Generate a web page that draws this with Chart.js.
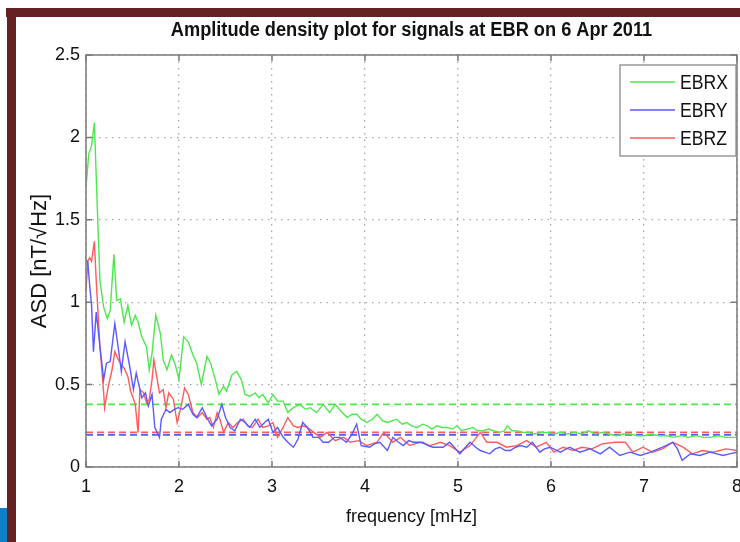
<!DOCTYPE html>
<html>
<head>
<meta charset="utf-8">
<script src="https://cdn.jsdelivr.net/npm/chart.js@4.4.1/dist/chart.umd.min.js"></script>
<style>
  html, body { margin: 0; padding: 0; background: #fff; }
  #wrap { position: relative; width: 740px; height: 542px; }
</style>
</head>
<body>
<div id="wrap"><canvas id="c" width="740" height="542"></canvas></div>
<script>
// EBRX (green)
const ebrxFreq = [1.00, 1.03, 1.06, 1.09, 1.12, 1.15, 1.19, 1.23, 1.26, 1.30, 1.33, 1.37, 1.41, 1.45, 1.49, 1.53, 1.56, 1.60, 1.65, 1.68,
  1.71, 1.75, 1.80, 1.83, 1.87, 1.92, 1.96, 2.00, 2.05, 2.10, 2.15, 2.19, 2.24, 2.30, 2.34, 2.39, 2.43, 2.48, 2.51, 2.57,
  2.62, 2.67, 2.71, 2.76, 2.82, 2.86, 2.90, 2.96, 3.01, 3.06, 3.12, 3.17, 3.23, 3.30, 3.36, 3.41, 3.48, 3.55, 3.62, 3.68,
  3.74, 3.81, 3.86, 3.91, 3.96, 4.02, 4.08, 4.13, 4.19, 4.24, 4.29, 4.34, 4.40, 4.45, 4.50, 4.56, 4.62, 4.67, 4.72, 4.77,
  4.83, 4.88, 4.94, 4.99, 5.04, 5.10, 5.16, 5.21, 5.27, 5.33, 5.38, 5.45, 5.50, 5.53, 5.58, 5.63, 5.70, 5.75, 5.82, 5.90,
  5.96, 6.03, 6.10, 6.18, 6.25, 6.33, 6.40, 6.48, 6.55, 6.62, 6.70, 6.78, 6.85, 6.93, 7.00, 7.08, 7.16, 7.24, 7.32, 7.40,
  7.48, 7.56, 7.64, 7.72, 7.80, 7.88, 7.96, 8.00]
const ebrxAsd = [1.70, 1.90, 1.95, 2.09, 1.60, 1.13, 0.97, 0.90, 0.95, 1.29, 1.01, 1.02, 0.88, 0.98, 0.86, 0.92, 0.88, 0.79, 0.73, 0.59,
  0.69, 0.92, 0.81, 0.65, 0.59, 0.68, 0.62, 0.53, 0.79, 0.76, 0.68, 0.63, 0.50, 0.67, 0.63, 0.53, 0.44, 0.49, 0.46, 0.56,
  0.58, 0.53, 0.44, 0.43, 0.45, 0.42, 0.44, 0.39, 0.44, 0.40, 0.40, 0.33, 0.36, 0.38, 0.35, 0.36, 0.33, 0.38, 0.33, 0.38,
  0.34, 0.30, 0.32, 0.32, 0.29, 0.27, 0.29, 0.32, 0.28, 0.27, 0.28, 0.29, 0.26, 0.27, 0.25, 0.24, 0.26, 0.25, 0.23, 0.25,
  0.24, 0.24, 0.23, 0.25, 0.22, 0.23, 0.24, 0.22, 0.22, 0.23, 0.22, 0.21, 0.22, 0.25, 0.22, 0.22, 0.21, 0.21, 0.20, 0.21,
  0.21, 0.20, 0.21, 0.20, 0.21, 0.20, 0.22, 0.20, 0.21, 0.20, 0.19, 0.20, 0.20, 0.19, 0.19, 0.20, 0.19, 0.19, 0.18, 0.19,
  0.18, 0.19, 0.18, 0.18, 0.19, 0.18, 0.18, 0.18]

// EBRY (blue)
const ebryFreq = [1.00, 1.02, 1.04, 1.06, 1.08, 1.11, 1.15, 1.19, 1.22, 1.26, 1.31, 1.35, 1.38, 1.42, 1.47, 1.51, 1.54, 1.60, 1.64, 1.67,
  1.71, 1.74, 1.79, 1.81, 1.86, 1.90, 1.95, 1.99, 2.04, 2.10, 2.15, 2.19, 2.25, 2.30, 2.35, 2.41, 2.46, 2.50, 2.55, 2.60,
  2.66, 2.71, 2.76, 2.82, 2.87, 2.92, 2.96, 3.01, 3.06, 3.12, 3.19, 3.23, 3.28, 3.33, 3.38, 3.44, 3.50, 3.55, 3.61, 3.67,
  3.73, 3.80, 3.86, 3.91, 3.96, 4.05, 4.10, 4.16, 4.24, 4.30, 4.36, 4.41, 4.47, 4.52, 4.62, 4.68, 4.73, 4.84, 4.91, 4.96,
  5.02, 5.08, 5.13, 5.19, 5.24, 5.34, 5.40, 5.45, 5.51, 5.56, 5.62, 5.67, 5.74, 5.80, 5.88, 5.93, 5.99, 6.10, 6.20, 6.31,
  6.42, 6.53, 6.63, 6.74, 6.85, 6.96, 7.07, 7.20, 7.31, 7.36, 7.41, 7.50, 7.60, 7.71, 7.85, 7.92, 8.00]
const ebryAsd = [1.26, 1.24, 1.10, 0.98, 0.70, 0.94, 0.73, 0.53, 0.63, 0.64, 0.87, 0.71, 0.58, 0.76, 0.61, 0.47, 0.57, 0.42, 0.45, 0.37,
  0.44, 0.24, 0.18, 0.29, 0.35, 0.33, 0.35, 0.36, 0.35, 0.38, 0.32, 0.30, 0.36, 0.30, 0.25, 0.29, 0.38, 0.30, 0.24, 0.22,
  0.29, 0.27, 0.24, 0.29, 0.24, 0.27, 0.29, 0.21, 0.24, 0.18, 0.14, 0.12, 0.17, 0.27, 0.24, 0.18, 0.18, 0.15, 0.15, 0.18,
  0.18, 0.15, 0.20, 0.26, 0.13, 0.12, 0.14, 0.15, 0.10, 0.18, 0.15, 0.13, 0.16, 0.15, 0.15, 0.13, 0.12, 0.12, 0.15, 0.12,
  0.08, 0.12, 0.15, 0.12, 0.10, 0.08, 0.11, 0.12, 0.10, 0.10, 0.12, 0.13, 0.12, 0.15, 0.09, 0.11, 0.12, 0.09, 0.12, 0.09,
  0.11, 0.08, 0.12, 0.07, 0.09, 0.07, 0.09, 0.12, 0.15, 0.11, 0.04, 0.08, 0.07, 0.09, 0.07, 0.08, 0.09]

// EBRZ (red)
const ebrzFreq = [1.00, 1.02, 1.04, 1.06, 1.09, 1.11, 1.13, 1.15, 1.17, 1.19, 1.20, 1.24, 1.28, 1.31, 1.34, 1.38, 1.41, 1.45, 1.48, 1.50,
  1.53, 1.56, 1.58, 1.62, 1.65, 1.68, 1.71, 1.73, 1.76, 1.79, 1.83, 1.86, 1.89, 1.94, 1.98, 2.02, 2.06, 2.10, 2.15, 2.20,
  2.25, 2.30, 2.33, 2.37, 2.41, 2.44, 2.48, 2.53, 2.58, 2.63, 2.69, 2.74, 2.79, 2.85, 2.90, 2.96, 3.01, 3.06, 3.12, 3.17,
  3.23, 3.28, 3.33, 3.38, 3.45, 3.52, 3.59, 3.68, 3.77, 3.84, 3.93, 4.02, 4.13, 4.20, 4.30, 4.38, 4.48, 4.59, 4.70, 4.81,
  4.91, 5.02, 5.13, 5.24, 5.31, 5.42, 5.52, 5.63, 5.74, 5.84, 5.95, 6.03, 6.13, 6.24, 6.33, 6.44, 6.55, 6.69, 6.80, 6.88,
  6.99, 7.09, 7.20, 7.31, 7.42, 7.52, 7.63, 7.74, 7.88, 8.00]
const ebrzAsd = [1.07, 1.25, 1.27, 1.25, 1.37, 1.13, 0.93, 0.73, 0.59, 0.45, 0.36, 0.49, 0.59, 0.70, 0.66, 0.62, 0.60, 0.55, 0.46, 0.43,
  0.38, 0.21, 0.47, 0.45, 0.39, 0.41, 0.53, 0.65, 0.55, 0.45, 0.47, 0.36, 0.45, 0.41, 0.27, 0.36, 0.48, 0.44, 0.33, 0.30,
  0.33, 0.29, 0.30, 0.24, 0.33, 0.29, 0.21, 0.27, 0.24, 0.27, 0.29, 0.25, 0.24, 0.29, 0.24, 0.25, 0.27, 0.18, 0.24, 0.30,
  0.25, 0.24, 0.25, 0.24, 0.21, 0.18, 0.21, 0.16, 0.18, 0.15, 0.16, 0.13, 0.15, 0.21, 0.15, 0.18, 0.13, 0.15, 0.13, 0.15,
  0.13, 0.09, 0.13, 0.21, 0.15, 0.15, 0.12, 0.13, 0.16, 0.12, 0.15, 0.09, 0.12, 0.10, 0.12, 0.11, 0.14, 0.15, 0.15, 0.09,
  0.12, 0.09, 0.11, 0.15, 0.12, 0.08, 0.10, 0.09, 0.11, 0.10]

// dashed reference levels (X, Y, Z) and axis ticks
const seriesNames = ['EBRX', 'EBRY', 'EBRZ']
const levelAsd = [0.38, 0.195, 0.21]
const freqRange = [1, 8]
const freqTicks = [1, 2, 3, 4, 5, 6, 7, 8]
const asdTicks = [0, 0.5, 1, 1.5, 2, 2.5]
const chartTitle = 'Amplitude density plot for signals at EBR on 6 Apr 2011'

const colors = ['#4ce84c', '#5a5aff', '#ff5a5a']
const sans = "'Liberation Sans', Arial, sans-serif"

function toPoints(xs, ys) {
  return xs.map((x, i) => ({ x: x, y: ys[i] }))
}

const series = [toPoints(ebrxFreq, ebrxAsd), toPoints(ebryFreq, ebryAsd), toPoints(ebrzFreq, ebrzAsd)]

const datasets = series.map((pts, i) => ({
  label: seriesNames[i],
  data: pts,
  borderColor: colors[i],
  borderWidth: 1.4,
  pointRadius: 0,
  tension: 0,
  fill: false
}))

// mean levels drawn as dashed lines across the range
levelAsd.forEach((lvl, i) => {
  datasets.push({
    label: seriesNames[i] + ' level',
    data: freqRange.map((f) => ({ x: f, y: lvl })),
    borderColor: colors[i],
    borderWidth: 1.8,
    borderDash: [7, 4],
    pointRadius: 0,
    fill: false
  })
})

// page frame, title, axes box, inner ticks and legend
const decor = {
  id: 'decor',
  beforeDraw(chart) {
    const ctx = chart.ctx
    ctx.save()
    ctx.fillStyle = '#fff'
    ctx.fillRect(0, 0, chart.width, chart.height)
    ctx.fillStyle = '#652222'
    ctx.fillRect(6, 8, 734, 9)
    ctx.fillRect(7, 8, 9, 534)
    ctx.fillStyle = '#0b7fc7'
    ctx.fillRect(0, 508, 7, 34)
    ctx.restore()
  },
  afterDatasetsDraw(chart) {
    const ctx = chart.ctx
    const a = chart.chartArea
    const xs = chart.scales.x
    const ys = chart.scales.y
    ctx.save()

    // title, slightly condensed like the original
    ctx.fillStyle = '#111'
    ctx.font = 'bold 20px ' + sans
    ctx.textAlign = 'center'
    ctx.textBaseline = 'middle'
    ctx.save()
    ctx.translate((a.left + a.right) / 2, 30)
    ctx.scale(0.91, 1)
    ctx.fillText(chartTitle, 0, 0)
    ctx.restore()

    ctx.strokeStyle = '#7a7a7a'
    ctx.lineWidth = 1.5
    ctx.strokeRect(a.left, a.top, a.right - a.left, a.bottom - a.top)
    ctx.beginPath()
    xs.ticks.forEach((t) => {
      const px = xs.getPixelForValue(t.value)
      ctx.moveTo(px, a.bottom); ctx.lineTo(px, a.bottom - 6)
      ctx.moveTo(px, a.top); ctx.lineTo(px, a.top + 6)
    })
    ys.ticks.forEach((t) => {
      const py = ys.getPixelForValue(t.value)
      ctx.moveTo(a.left, py); ctx.lineTo(a.left + 6, py)
      ctx.moveTo(a.right, py); ctx.lineTo(a.right - 6, py)
    })
    ctx.stroke()

    // legend box
    const bx = 620, by = 65, bw = 116, bh = 91
    ctx.fillStyle = '#fff'
    ctx.fillRect(bx, by, bw, bh)
    ctx.strokeStyle = '#8a8a8a'
    ctx.lineWidth = 1.3
    ctx.strokeRect(bx, by, bw, bh)
    ctx.font = '20px ' + sans
    ctx.textBaseline = 'middle'
    ctx.textAlign = 'left'
    chart.data.datasets.slice(0, 3).forEach((ds, i) => {
      const ry = 82 + i * 28
      ctx.strokeStyle = ds.borderColor
      ctx.lineWidth = 1.5
      ctx.beginPath()
      ctx.moveTo(630, ry); ctx.lineTo(675, ry)
      ctx.stroke()
      ctx.fillStyle = '#111'
      ctx.save()
      ctx.translate(680, ry + 1)
      ctx.scale(0.88, 1)
      ctx.fillText(ds.label, 0, 0)
      ctx.restore()
    })
    ctx.restore()
  }
}

new Chart(document.getElementById('c').getContext('2d'), {
  type: 'line',
  data: { datasets: datasets },
  plugins: [decor],
  options: {
    responsive: false,
    animation: false,
    layout: { padding: { left: 0, right: 3, top: 55, bottom: 0 } },
    plugins: {
      legend: { display: false },
      tooltip: { enabled: false },
      title: { display: false }
    },
    scales: {
      x: {
        type: 'linear',
        min: freqRange[0],
        max: freqRange[1],
        afterFit(scale) { scale.height = 75; scale.paddingRight = 0 },
        afterBuildTicks(scale) { scale.ticks = freqTicks.map((v) => ({ value: v })) },
        ticks: { color: '#111', padding: 9, maxRotation: 0, font: { family: sans, size: 18 } },
        grid: { color: '#a8a8a8', lineWidth: 1.3, drawTicks: false },
        border: { display: false, dash: [1.5, 5] },
        title: {
          display: true,
          text: 'frequency [mHz]',
          color: '#111',
          font: { family: sans, size: 18 },
          padding: { top: 0, bottom: 14 }
        }
      },
      y: {
        min: 0,
        max: 2.5,
        afterFit(scale) { scale.width = 86 },
        afterBuildTicks(scale) { scale.ticks = asdTicks.map((v) => ({ value: v })) },
        ticks: { color: '#111', padding: 6, font: { family: sans, size: 18 }, callback: (v) => String(v) },
        grid: { color: '#a8a8a8', lineWidth: 1.3, drawTicks: false },
        border: { display: false, dash: [1.5, 5] },
        title: {
          display: true,
          text: 'ASD [nT/√Hz]',
          color: '#111',
          font: { family: sans, size: 22 },
          padding: { top: 27, bottom: 0 }
        }
      }
    }
  }
})
</script>
</body>
</html>
